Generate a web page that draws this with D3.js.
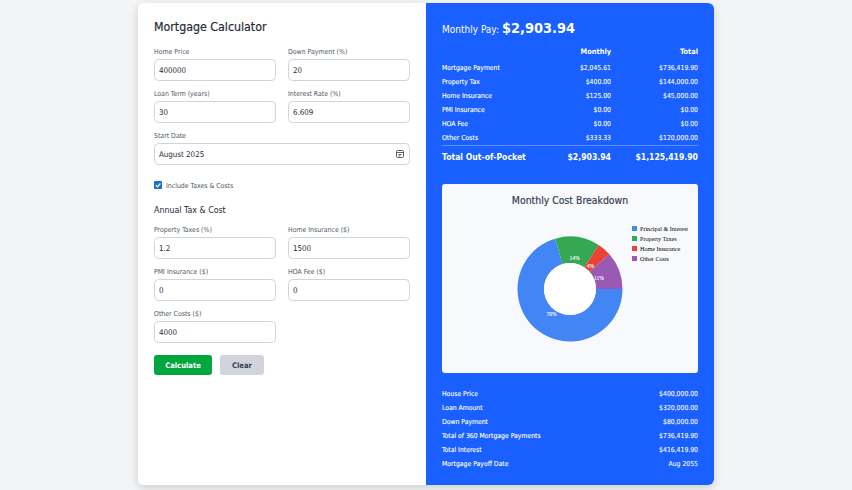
<!DOCTYPE html>
<html>
<head>
<meta charset="utf-8">
<script src="https://cdn.jsdelivr.net/npm/d3@7"></script>
<style>
  html, body { margin: 0; padding: 0; background: #f3f4f6; overflow: hidden; }
  svg { display: block; font-family: "DejaVu Sans Condensed", "DejaVu Sans", sans-serif; font-stretch: condensed; }
</style>
</head>
<body>
<div id="chart"></div>
<script>
// chart values
const sliceLabels = ['Principal & Interest', 'Property Taxes', 'Home Insurance', 'Other Costs'];
const sliceValues = [2045.61, 400, 125, 333.33];
const sliceColors = ['#4285f4', '#34a853', '#ea4335', '#9b59b6'];

// table on the right
const costNames = ['Mortgage Payment', 'Property Tax', 'Home Insurance', 'PMI Insurance', 'HOA Fee', 'Other Costs'];
const costMonthly = ['$2,045.61', '$400.00', '$125.00', '$0.00', '$0.00', '$333.33'];
const costTotal = ['$736,419.90', '$144,000.00', '$45,000.00', '$0.00', '$0.00', '$120,000.00'];
const summaryNames = ['House Price', 'Loan Amount', 'Down Payment', 'Total of 360 Mortgage Payments', 'Total Interest', 'Mortgage Payoff Date'];
const summaryValues = ['$400,000.00', '$320,000.00', '$80,000.00', '$736,419.90', '$416,419.90', 'Aug 2055'];

// form fields on the left
const loanLabels = ['Home Price', 'Down Payment (%)', 'Loan Term (years)', 'Interest Rate (%)'];
const loanValues = ['400000', '20', '30', '6.609'];
const taxLabels = ['Property Taxes (%)', 'Home Insurance ($)', 'PMI Insurance ($)', 'HOA Fee ($)', 'Other Costs ($)'];
const taxValues = ['1.2', '1500', '0', '0', '4000'];

const width = 852, height = 490;
const svg = d3.select('#chart').append('svg').attr('width', width).attr('height', height);

const defs = svg.append('defs');
defs.append('filter').attr('id', 'cardShadow').attr('x', '-10%').attr('y', '-10%').attr('width', '120%').attr('height', '120%')
  .append('feDropShadow').attr('dx', 0).attr('dy', 3).attr('stdDeviation', 4).attr('flood-color', '#000').attr('flood-opacity', 0.16);

const cardX = 138, cardY = 3, cardW = 576, cardH = 482, splitX = 426;

svg.append('rect').attr('x', cardX).attr('y', cardY).attr('width', cardW).attr('height', cardH)
  .attr('rx', 6).attr('fill', '#fff').attr('filter', 'url(#cardShadow)');
svg.append('path')
  .attr('d', `M${splitX},${cardY}H${cardX + cardW - 6}a6,6 0 0 1 6,6V${cardY + cardH - 6}a6,6 0 0 1 -6,6H${splitX}Z`)
  .attr('fill', '#1a5fff');

function label(g, x, y, str, o = {}) {
  return g.append('text').attr('x', x).attr('y', y)
    .attr('text-anchor', o.anchor || 'start')
    .attr('dominant-baseline', 'central')
    .attr('font-size', o.size || 7)
    .attr('font-weight', o.weight || 400)
    .attr('fill', o.fill || '#4b5563')
    .attr('stroke', o.bold ? o.fill : null)
    .attr('stroke-width', o.bold ? o.bold : null)
    .text(str);
}

// --- left panel ---
const left = svg.append('g');
const col1 = 154, col2 = 288, inputW = 122, inputH = 22;

function field(name, value, x, y, w) {
  label(left, x, y + 0.7, name, { size: 6.9, fill: '#4b5563' });
  left.append('rect').attr('x', x + 0.5).attr('y', y + 8.5).attr('width', w - 1).attr('height', inputH - 1)
    .attr('rx', 4).attr('fill', '#fff').attr('stroke', '#d1d5db');
  label(left, x + 5, y + 19, value, { size: 7.9, fill: '#1f2937' });
}

label(left, col1, 27, 'Mortgage Calculator', { size: 12.3, fill: '#1f2937', bold: 0.2 });

loanLabels.forEach((d, i) => field(d, loanValues[i], i % 2 ? col2 : col1, 51 + 42 * Math.floor(i / 2), inputW));
field('Start Date', 'August 2025', col1, 135, 256);

// calendar icon
const cal = left.append('g').attr('fill', 'none').attr('stroke', '#4b5563').attr('stroke-width', 0.9);
cal.append('rect').attr('x', 396.5).attr('y', 150.5).attr('width', 7).attr('height', 7).attr('rx', 1);
cal.append('path').attr('d', 'M396.5,152.5h7M398.5,154.5h3M398.5,156h2');

// checkbox
left.append('rect').attr('x', 154).attr('y', 181).attr('width', 8).attr('height', 8).attr('rx', 1).attr('fill', '#1a6fd4');
left.append('path').attr('d', 'M155.8,185.2l1.6,1.7l3-3.4').attr('fill', 'none').attr('stroke', '#fff').attr('stroke-width', 1.2);
label(left, 166, 185.5, 'Include Taxes & Costs', { size: 6.9, fill: '#4b5563' });

label(left, col1, 210, 'Annual Tax & Cost', { size: 8.8, fill: '#1f2937' });

taxLabels.forEach((d, i) => field(d, taxValues[i], i % 2 ? col2 : col1, 229 + 42 * Math.floor(i / 2), inputW));

// buttons
left.append('rect').attr('x', 154).attr('y', 355).attr('width', 58).attr('height', 20).attr('rx', 3).attr('fill', '#00a63e');
label(left, 183, 365, 'Calculate', { size: 7.6, weight: 700, fill: '#fff', anchor: 'middle' });
left.append('rect').attr('x', 220).attr('y', 355).attr('width', 44).attr('height', 20).attr('rx', 3).attr('fill', '#d1d5db');
label(left, 242, 365, 'Clear', { size: 7.6, weight: 700, fill: '#374151', anchor: 'middle' });

// --- right panel ---
const right = svg.append('g');
const rx0 = 442, rxM = 611, rxT = 698;

label(right, rx0, 29.5, 'Monthly Pay:', { size: 10, fill: '#fff' });
label(right, 502, 28, '$2,903.94', { size: 14.4, weight: 700, fill: '#fff' });

label(right, rxM, 51, 'Monthly', { size: 7.4, weight: 700, fill: '#fff', anchor: 'end' });
label(right, rxT, 51, 'Total', { size: 7.4, weight: 700, fill: '#fff', anchor: 'end' });

costNames.forEach((d, i) => {
  const y = 67.5 + 14 * i;
  label(right, rx0, y, d, { size: 6.8, fill: '#fff', bold: 0.12 });
  label(right, rxM, y, costMonthly[i], { size: 6.8, fill: '#fff', anchor: 'end', bold: 0.08 });
  label(right, rxT, y, costTotal[i], { size: 6.8, fill: '#fff', anchor: 'end', bold: 0.08 });
});

right.append('line').attr('x1', rx0).attr('x2', rxT).attr('y1', 145.5).attr('y2', 145.5)
  .attr('stroke', '#5c8eff');

label(right, rx0, 157, 'Total Out-of-Pocket', { size: 8.6, weight: 700, fill: '#fff' });
label(right, rxM, 157, '$2,903.94', { size: 8.6, weight: 700, fill: '#fff', anchor: 'end' });
label(right, rxT, 157, '$1,125,419.90', { size: 8.6, weight: 700, fill: '#fff', anchor: 'end' });

summaryNames.forEach((d, i) => {
  const y = 393.5 + 14 * i;
  label(right, rx0, y, d, { size: 6.8, fill: '#fff', bold: 0.12 });
  label(right, rxT, y, summaryValues[i], { size: 6.8, fill: '#fff', anchor: 'end', bold: 0.08 });
});

// --- donut card ---
const cardG = svg.append('g');
cardG.append('rect').attr('x', 442).attr('y', 184).attr('width', 256).attr('height', 189).attr('rx', 3).attr('fill', '#f8f9fc');
label(cardG, 570, 199.5, 'Monthly Cost Breakdown', { size: 10.4, fill: '#374151', anchor: 'middle', bold: 0.2 });

const cx = 570, cy = 289, outerR = 52.5, innerR = 26;
const pie = d3.pie().sort(null).startAngle(Math.PI / 2).endAngle(Math.PI * 2.5);
const arc = d3.arc().innerRadius(innerR).outerRadius(outerR);
const labelArc = d3.arc().innerRadius(31).outerRadius(31);
const total = d3.sum(sliceValues);
const pieData = pie(sliceValues);
const donut = cardG.append('g').attr('transform', `translate(${cx},${cy})`);

donut.selectAll('path').data(pieData).enter().append('path')
  .attr('d', arc)
  .attr('fill', (d, i) => sliceColors[i]);
donut.append('circle').attr('r', innerR).attr('fill', '#fff');

donut.selectAll('text').data(pieData).enter().append('text')
  .attr('transform', d => `translate(${labelArc.centroid(d)})`)
  .attr('text-anchor', 'middle')
  .attr('dominant-baseline', 'central')
  .attr('font-family', '"Liberation Serif", serif')
  .attr('font-size', 5.5)
  .attr('fill', '#fff')
  .attr('stroke', '#fff')
  .attr('stroke-width', 0.1)
  .text(d => Math.round(d.value / total * 100) + '%');

const legend = cardG.selectAll('.legend').data(sliceLabels).enter().append('g')
  .attr('class', 'legend')
  .attr('transform', (d, i) => `translate(632,${228.5 + 10 * i})`);
legend.append('rect').attr('y', -2.5).attr('width', 5).attr('height', 5)
  .attr('fill', (d, i) => sliceColors[i]);
legend.append('text').attr('x', 8).attr('dominant-baseline', 'central')
  .attr('font-family', '"Liberation Serif", serif')
  .attr('font-size', 6.1)
  .attr('fill', '#000')
  .text(d => d);
</script>
</body>
</html>
